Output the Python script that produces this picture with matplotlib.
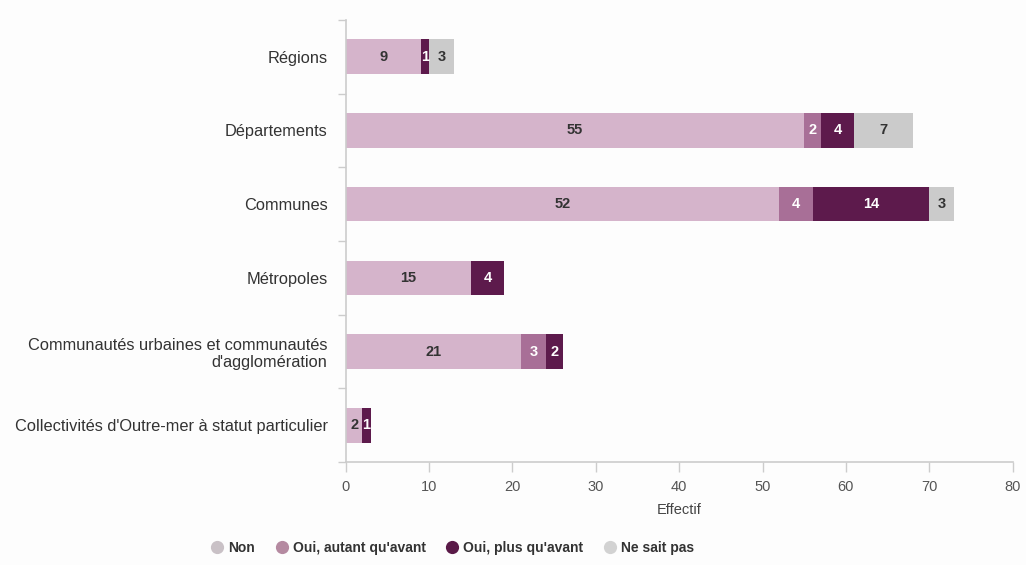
import matplotlib
matplotlib.use("Agg")
import matplotlib.pyplot as plt
from matplotlib.lines import Line2D
import numpy as np

plt.rcParams['font.family'] = ['Liberation Sans', 'DejaVu Sans']

categories = [
    "Régions",
    "Départements",
    "Communes",
    "Métropoles",
    "Communautés urbaines et communautés\nd'agglomération",
    "Collectivités d'Outre-mer à statut particulier",
]
series_names = ["Non", "Oui, autant qu'avant", "Oui, plus qu'avant", "Ne sait pas"]
non = [9, 55, 52, 15, 21, 2]
oui_autant = [0, 2, 4, 0, 3, 0]
oui_plus = [1, 4, 14, 4, 2, 1]
ne_sait_pas = [3, 7, 3, 0, 0, 0]
x_ticks = [0, 10, 20, 30, 40, 50, 60, 70, 80]

colors = ["#d5b4cb", "#a86f97", "#5d1a4c", "#cbcbcb"]
legend_colors = ["#c9c1c6", "#b58aa1", "#5a1a48", "#d2d2d2"]
label_colors = ["#333333", "#ffffff", "#ffffff", "#333333"]

fig = plt.figure(figsize=(10.26, 5.65), dpi=100)
fig.patch.set_facecolor("#fdfdfd")
ax = fig.add_axes([0.337, 0.182, 0.650, 0.783])
ax.set_facecolor("#fdfdfd")

y = np.arange(len(categories))
left = np.zeros(len(categories))
for vals, col, tcol in zip([non, oui_autant, oui_plus, ne_sait_pas], colors, label_colors):
    vals = np.array(vals, dtype=float)
    ax.barh(y, vals, left=left, height=0.47, color=col, edgecolor="none")
    for yi, v, l in zip(y, vals, left):
        if v > 0:
            ax.text(l + v / 2, yi, f"{int(v)}", ha="center", va="center",
                    fontsize=10.5, color=tcol, fontweight="bold")
    left += vals

ax.set_ylim(len(categories) - 0.5, -0.5)
ax.set_xlim(0, 80)
ax.set_xticks(x_ticks)
ax.set_xticklabels([str(t) for t in x_ticks], fontsize=10.5, color="#555555")
ax.set_yticks(y)
ax.set_yticklabels(categories, fontsize=11.8, color="#333333", linespacing=1.15)
ax.set_yticks(np.arange(len(categories) + 1) - 0.5, minor=True)
ax.tick_params(axis="y", which="major", length=0, pad=13)
ax.tick_params(axis="y", which="minor", length=6, color="#cccccc", width=1)
ax.tick_params(axis="x", length=7, color="#cccccc", width=1, pad=6)
for lab in ax.get_yticklabels():
    lab.set_multialignment("right")

for s in ["top", "right"]:
    ax.spines[s].set_visible(False)
for s in ["left", "bottom"]:
    ax.spines[s].set_color("#cccccc")
    ax.spines[s].set_linewidth(1.2)

ax.set_xlabel("Effectif", fontsize=10.5, color="#444444", labelpad=6)

handles = [Line2D([0], [0], marker="o", linestyle="none", markersize=9.5,
                  markerfacecolor=c, markeredgecolor="none") for c in legend_colors]
leg = fig.legend(handles, series_names, loc="center", bbox_to_anchor=(0.44, 0.03),
                 ncol=4, frameon=False, fontsize=10, handletextpad=0.2,
                 columnspacing=1.3, handlelength=1.2)
for t in leg.get_texts():
    t.set_color("#333333")
    t.set_fontweight("bold")

fig.savefig("out.png", dpi=100, facecolor=fig.get_facecolor())
